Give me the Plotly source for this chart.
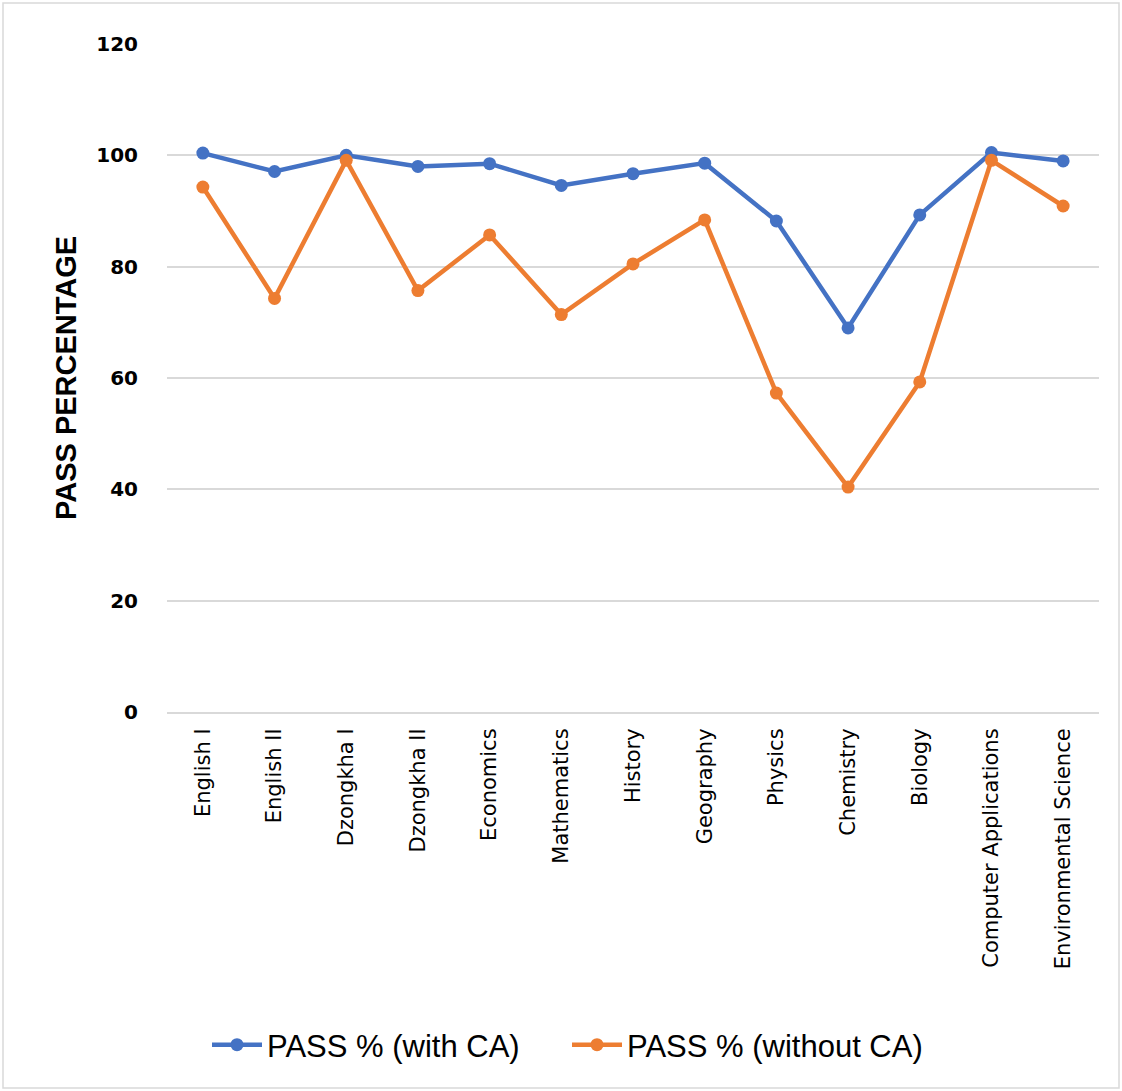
import plotly.graph_objects as go

subjects = ["English I", "English II", "Dzongkha I", "Dzongkha II", "Economics",
            "Mathematics", "History", "Geography", "Physics", "Chemistry",
            "Biology", "Computer Applications", "Environmental Science"]
with_ca = [100.4, 97.1, 100.0, 98.0, 98.5, 94.6, 96.7, 98.6, 88.2, 69.0, 89.3, 100.5, 99.0]
without_ca = [94.3, 74.3, 99.1, 75.7, 85.7, 71.4, 80.5, 88.4, 57.3, 40.4, 59.3, 99.1, 90.9]
y_ticks = [0, 20, 40, 60, 80, 100, 120]

W, H = 1122, 1091
L, R, T, B = 167, 23, 44, 379
pw, ph = W - L - R, H - T - B

def px(xp):
    return (xp - L) / pw

def py(yp):
    return (H - B - yp) / ph

fig = go.Figure()
fig.add_trace(go.Scatter(x=subjects, y=with_ca, mode="lines+markers", name="PASS % (with CA)",
                         line=dict(color="#4472C4", width=4.5), marker=dict(size=13, color="#4472C4")))
fig.add_trace(go.Scatter(x=subjects, y=without_ca, mode="lines+markers", name="PASS % (without CA)",
                         line=dict(color="#ED7D31", width=4.5), marker=dict(size=13, color="#ED7D31")))

fig.update_layout(
    width=W, height=H,
    margin=dict(l=L, r=R, t=T, b=B),
    paper_bgcolor="white", plot_bgcolor="white",
    showlegend=True,
    legend=dict(orientation="h", x=px(207), xanchor="left", y=py(1045), yanchor="middle",
                font=dict(family="Liberation Sans Narrow, Liberation Sans", size=31, color="black"),
                itemwidth=50, entrywidth=295, entrywidthmode="pixels", tracegroupgap=0),
    xaxis=dict(type="category", tickangle=-90, showgrid=False, showline=True,
               linecolor="#d9d9d9", linewidth=2, ticks="", ticklabelstandoff=6,
               tickfont=dict(family="DejaVu Sans", size=21, color="black"),
               range=[-0.5, len(subjects) - 0.5]),
    yaxis=dict(range=[0, 120], tickvals=y_ticks, showgrid=True, gridcolor="#d9d9d9", gridwidth=2,
               zeroline=False, showline=False, ticks="", ticklabelstandoff=28,
               tickfont=dict(family="DejaVu Sans", size=20, color="black", weight="bold")),
    annotations=[dict(text="PASS PERCENTAGE", textangle=-90, x=px(66), y=py(378), xref="paper", yref="paper",
                      xanchor="center", yanchor="middle", showarrow=False,
                      font=dict(family="Liberation Sans Narrow, Liberation Sans", size=29, color="black", weight="bold"))],
    shapes=[dict(type="rect", xref="paper", yref="paper", x0=px(3), x1=px(1119), y0=py(1088), y1=py(3),
                 line=dict(color="#d9d9d9", width=1.5), layer="below")],
)

fig.write_html("out.html", config={"displayModeBar": False},
               post_script="document.body.style.margin='0';")
